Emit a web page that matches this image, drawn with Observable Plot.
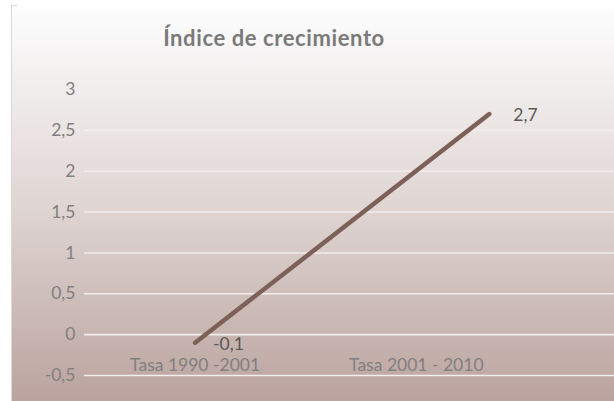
<!DOCTYPE html>
<html>
<head>
<meta charset="utf-8">
<script src="https://cdn.jsdelivr.net/npm/d3@7"></script>
<script src="https://cdn.jsdelivr.net/npm/@observablehq/plot@0.6"></script>
<style>
  html, body { margin: 0; padding: 0; background: #ffffff; }
  #wrap { position: relative; width: 614px; height: 401px; overflow: hidden; background: #ffffff; }
  #frame { position: absolute; left: 11px; top: 5px; right: 0; bottom: 0;
    border-left: 1px solid #d9d9d9;
    background: linear-gradient(to bottom, #fefefe 0%, #f0ecec 22%, #e0d6d4 50%, #cdbdb9 75%, #bba39e 100%); }
  #stub { position: absolute; left: 11px; top: 5px; width: 6px; height: 1px; background: #d9d9d9; }
  #chart { position: absolute; left: 0; top: 0; }
  #title { position: absolute; left: 0; width: 548px; top: 24px; text-align: center;
    font-family: "Century Gothic", "Lato", sans-serif; font-weight: bold; font-size: 22px;
    letter-spacing: 0.6px; color: #7a7a7a; }
</style>
</head>
<body>
<div id="wrap">
  <div id="frame"></div>
  <div id="stub"></div>
  <div id="chart"></div>
  <div id="title">Índice de crecimiento</div>
</div>
<script>
// Data
const categories = ["Tasa 1990 -2001", "Tasa 2001 - 2010"];
const categoryPos = [1, 2];
const values = [-0.1, 2.7];
const linePos = [1, 2.33];      // horizontal placement of the line's points
const yTicks = [-0.5, 0, 0.5, 1, 1.5, 2, 2.5, 3];

const fmt = v => String(v).replace(".", ",");

const pts = values.map((v, i) => ({x: linePos[i], y: v, label: fmt(v)}));
const cats = categories.map((c, i) => ({x: categoryPos[i], name: c}));

const plot = Plot.plot({
  width: 614,
  height: 401,
  marginLeft: 84,
  marginRight: 0,
  marginTop: 89,
  marginBottom: 26,
  style: {background: "transparent", fontFamily: "Lato, sans-serif"},
  x: {domain: [0.5, 2.896], axis: null},
  y: {domain: [-0.5, 3], axis: null},
  marks: [
    Plot.ruleY(yTicks, {x1: 0.5, x2: 2.896, stroke: "#f2eeee", strokeWidth: 1.6}),
    Plot.text(yTicks, {x: 0.5, y: d => d, text: d => fmt(d), textAnchor: "end", dx: -9,
      fill: "#808080", fontSize: 17.5}),
    Plot.text(cats, {x: "x", y: 0, text: "name", dy: 31, fill: "#808080", fontSize: 17.5}),
    Plot.line(pts, {x: "x", y: "y", stroke: "#7d6159", strokeWidth: 4.5, strokeLinecap: "round"}),
    Plot.text(pts.slice(0, 1), {x: "x", y: "y", text: "label", textAnchor: "start", dx: 18, dy: 2,
      fill: "#595959", fontSize: 17.5}),
    Plot.text(pts.slice(1), {x: "x", y: "y", text: "label", textAnchor: "start", dx: 24, dy: 1,
      fill: "#595959", fontSize: 17.5})
  ]
});
document.getElementById("chart").appendChild(plot);
</script>
</body>
</html>
